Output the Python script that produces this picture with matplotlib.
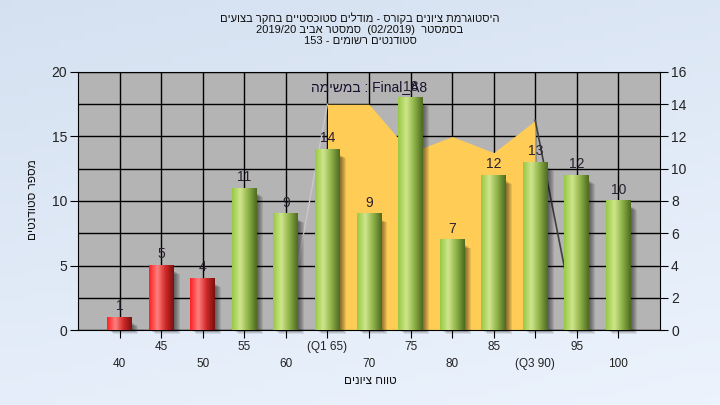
import numpy as np
import matplotlib
matplotlib.use('Agg')
import matplotlib.pyplot as plt
from matplotlib.colors import LinearSegmentedColormap
from matplotlib.patches import Rectangle

plt.rcParams['font.family'] = ['Liberation Sans', 'DejaVu Sans']

# data
grades = ['40', '45', '50', '55', '60', '(Q1 65)', '70', '75', '80', '85', '(Q3 90)', '95', '100']
students = [1, 5, 4, 11, 9, 14, 9, 18, 7, 12, 13, 12, 10]
final_a8 = [0, 0, 0, 0, 0, 14, 14, 11, 12, 11, 13, 0, 0]
pass_from = 3  # first passing category (55)

title_lines = ['היסטוגרמת ציונים בקורס - מודלים סטוכסטיים בחקר בצועים',
               'בסמסטר  (02/2019)  סמסטר אביב 2019/20',
               'סטודנטים רשומים - 153']
legend_txt = 'Final_A8 : במשימה'
xlabel = 'טווח ציונים'
ylabel = 'מספר סטודנטים'


def vis(s):
    # very small bidi: reverse word order, reverse hebrew words
    out = []
    for w in s.split(' ')[::-1]:
        if any('\u0590' <= c <= '\u05ff' for c in w):
            w = w[::-1]
        out.append(w)
    return ' '.join(out)


fig = plt.figure(figsize=(7.2, 4.05), dpi=100)

# background gradient
bg = fig.add_axes([0, 0, 1, 1], zorder=-10)
yy, xx = np.mgrid[0:1:50j, 0:1:50j]
t = (yy * 0.7 + xx * 0.3)
c0 = np.array([0.835, 0.882, 0.945])
c1 = np.array([0.925, 0.953, 0.992])
img = c0[None, None, :] * (1 - t[..., None]) + c1[None, None, :] * t[..., None]
bg.imshow(img, aspect='auto', extent=[0, 1, 0, 1], origin='upper')
bg.set_axis_off()

rect = [78 / 720, 1 - 330 / 405, 582 / 720, 258 / 405]
x = np.arange(len(grades))

# right axis: background, grid, area
ax2 = fig.add_axes(rect)
ax2.set_facecolor('#b4b4b4')
ax2.set_xlim(-1, len(grades))
ax2.set_ylim(0, 16)
ax2.set_yticks(range(0, 17, 2))
ax2.yaxis.tick_right()
ax2.set_xticks([])
ax2.grid(axis='y', color='black', lw=1, zorder=0)
ax2.vlines(x, 0, 16, color='black', lw=1, zorder=0)
ax2.set_axisbelow(True)
vals = np.array(final_a8, dtype=float)
mask = vals > 0
ax2.fill_between(x, vals, where=mask, color='#ffcc55', lw=0, zorder=2)
first = int(np.argmax(mask))
last = len(vals) - 1 - int(np.argmax(mask[::-1]))
ax2.plot(x[first - 1:first + 1], vals[first - 1:first + 1], color='#c8c8c8', lw=1, zorder=2)
ax2.plot(x[last:last + 2], vals[last:last + 2], color='#404040', lw=1.2, zorder=2)
ax2.tick_params(axis='y', direction='out', length=6, labelsize=10, labelcolor='#222222', pad=2)
for s in ['left', 'top', 'bottom']:
    ax2.spines[s].set_visible(False)
ax2.spines['right'].set_color('black')

# left axis: bars
ax = fig.add_axes(rect)
ax.patch.set_visible(False)
w = 0.6
green = LinearSegmentedColormap.from_list('g', ['#98c844', '#cfe68c', '#8db046', '#4d6a22'])
red = LinearSegmentedColormap.from_list('r', ['#ff2020', '#ff8080', '#d02828', '#7a1010'])
grad = np.linspace(0, 1, 64)[None, :]
px = 1 / 41.5
py = 20 / 258
for i, v in enumerate(students):
    for k in range(1, 7):
        ax.add_patch(Rectangle((x[i] - w / 2 + k * px, -k * py * 0.6), w, v - 5 * py,
                               color='black', alpha=0.09, lw=0, zorder=3, clip_on=False))
    cmap = green if i >= pass_from else red
    ax.imshow(grad, cmap=cmap, aspect='auto', extent=[x[i] - w / 2, x[i] + w / 2, 0, v],
              zorder=4, interpolation='bicubic')
    ax.annotate(str(v), (x[i], v), xytext=(0, 3), textcoords='offset points',
                ha='center', va='bottom', fontsize=10, color='#2a2030', zorder=6)

ax.set_xlim(-1, len(grades))
ax.set_ylim(0, 20)
ax.set_yticks(range(0, 21, 5))
ax.set_xticks(x)
ax.set_xticklabels([g if i % 2 else '\n' + g for i, g in enumerate(grades)], fontsize=8.5,
                   color='#222222', linespacing=1.5)
ax.tick_params(axis='x', direction='out', length=6, pad=2)
ax.tick_params(axis='y', direction='out', length=6, labelsize=10, labelcolor='#222222', pad=2)
for s in ['right']:
    ax.spines[s].set_visible(False)
ax.spines['top'].set_color('black')

ax.text(0.5, 0.94, vis(legend_txt), transform=ax.transAxes, ha='center', va='center',
        fontsize=10, color='#1a1030', zorder=7)

fig.text(0.5, 1 - 12 / 405, '\n'.join(vis(s) for s in title_lines), ha='center', va='top',
         fontsize=8, linespacing=1.12, color='#111111')
fig.text(370 / 720, 1 - 381 / 405, vis(xlabel), ha='center', va='center', fontsize=8.5, color='#111111')
fig.text(33 / 720, 1 - 200 / 405, vis(ylabel), ha='center', va='center', rotation=90,
         fontsize=8.5, color='#111111')

fig.savefig('out.png', dpi=100)
